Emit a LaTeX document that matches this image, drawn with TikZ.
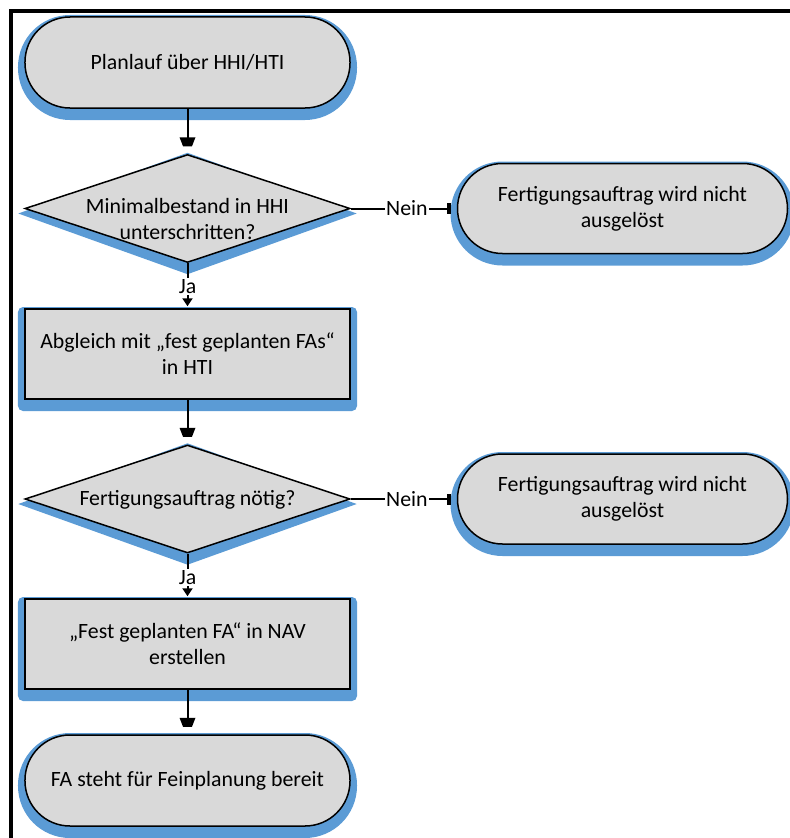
\documentclass[tikz,border=0pt]{standalone}
\usepackage{fontspec}
\setmainfont{Carlito}
\usetikzlibrary{arrows.meta,shapes.geometric}

\definecolor{boxgray}{RGB}{217,217,217}
\definecolor{shadowblue}{RGB}{91,155,213}
\newcommand\flowfont{\fontsize{21.9}{26}\selectfont}

% trapezoidal arrow head used on the main flow lines
\pgfdeclarearrow{
  name = Trap,
  defaults = {length = 9bp, width = 16bp},
  parameters = {\the\pgfarrowlength,\the\pgfarrowwidth},
  setup code = {
    \pgfarrowssettipend{0pt}
    \pgfarrowssetbackend{-\pgfarrowlength}
    \pgfarrowssetlineend{-.5\pgfarrowlength}
    \pgfarrowssavethe\pgfarrowlength
    \pgfarrowssavethe\pgfarrowwidth
  },
  drawing code = {
    \pgfpathmoveto{\pgfqpoint{-\pgfarrowlength}{.5\pgfarrowwidth}}
    \pgfpathlineto{\pgfqpoint{0pt}{.28\pgfarrowwidth}}
    \pgfpathlineto{\pgfqpoint{0pt}{-.28\pgfarrowwidth}}
    \pgfpathlineto{\pgfqpoint{-\pgfarrowlength}{-.5\pgfarrowwidth}}
    \pgfpathclose
    \pgfusepathqfill
  }
}

\tikzset{
  box/.style={draw=black, line width=1.5bp, fill=boxgray, font=\flowfont,
              align=center, inner sep=0pt},
  term/.style={box, rectangle, rounded corners=45bp,
               minimum width=325bp, minimum height=91bp},
  termR/.style={term, minimum width=330bp, minimum height=90bp},
  proc/.style={box, rectangle, minimum width=325bp, minimum height=90bp},
  decision/.style={box, diamond, minimum width=325bp, minimum height=108bp},
  shade/.style={fill=shadowblue, draw=none},
  txt/.style={font=\flowfont, align=center, inner sep=0pt},
  lab/.style={font=\flowfont, fill=white, inner sep=1.5bp},
  flow/.style={line width=2bp, -{Trap}, shorten >=7.5bp},
  yes/.style={line width=2bp, -{Triangle[length=8bp,width=10bp]}, shorten >=2bp},
  no/.style={line width=2bp, -{Rectangle[length=4bp,width=11bp]}, shorten >=6bp},
}

\begin{document}
\begin{tikzpicture}[x=1bp, y=-1bp]
\useasboundingbox (0,0) rectangle (790,838);

% outer frame (top and left edges)
\draw[line width=4bp, line join=miter] (11,838) -- (11,10.5) -- (790,10.5);

% blue shadows behind the shapes
\node[term, shade, minimum width=339bp, minimum height=105bp, rounded corners=52bp] (t1s) at (187.5,67.5) {};
\node[decision, shade, minimum width=339bp, minimum height=122bp] (d1s) at (187.5,213.5) {};
\node[termR, shade, minimum width=344bp, minimum height=104bp, rounded corners=52bp] (rt1s) at (622.5,213.5) {};
\node[proc, shade, minimum width=339bp, minimum height=104bp, rounded corners=5bp] (r1s) at (187.5,359) {};
\node[decision, shade, minimum width=339bp, minimum height=122bp] (d2s) at (187.5,504) {};
\node[termR, shade, minimum width=344bp, minimum height=104bp, rounded corners=52bp] (rt2s) at (622.5,504) {};
\node[proc, shade, minimum width=339bp, minimum height=104bp, rounded corners=5bp] (r2s) at (187.5,649) {};
\node[term, shade, minimum width=339bp, minimum height=105bp, rounded corners=52bp] (t3s) at (187.5,785.5) {};

% shapes
\node[term] (t1) at (187.5,62.5) {Planlauf über HHI/HTI};
\node[decision] (d1) at (187.5,208.5) {};
\node[txt] (d1t) at (187.5,219) {Minimalbestand in HHI\\unterschritten?};
\node[termR] (rt1) at (622.5,208.5) {Fertigungsauftrag wird nicht\\ausgelöst};
\node[proc] (r1) at (187.5,354) {Abgleich mit „fest geplanten FAs“\\in HTI};
\node[decision] (d2) at (187.5,499) {};
\node[txt] (d2t) at (187.5,500) {Fertigungsauftrag nötig?};
\node[termR] (rt2) at (622.5,499) {Fertigungsauftrag wird nicht\\ausgelöst};
\node[proc] (r2) at (187.5,644) {„Fest geplanten FA“ in NAV\\erstellen};
\node[term] (t3) at (187.5,780.5) {FA steht für Feinplanung bereit};

% connectors
\draw[flow] (t1) -- (d1);
\draw[no] (d1.east) -- (rt1.west) node[lab, pos=.53] (n1) {Nein};
\draw[yes] (d1.south) -- (r1.north) node[lab, pos=.52] (j1) {Ja};
\draw[flow] (r1) -- (d2);
\draw[no] (d2.east) -- (rt2.west) node[lab, pos=.53] (n2) {Nein};
\draw[yes] (d2.south) -- (r2.north) node[lab, pos=.54] (j2) {Ja};
\draw[flow] (r2) -- (t3);
\end{tikzpicture}
\end{document}
